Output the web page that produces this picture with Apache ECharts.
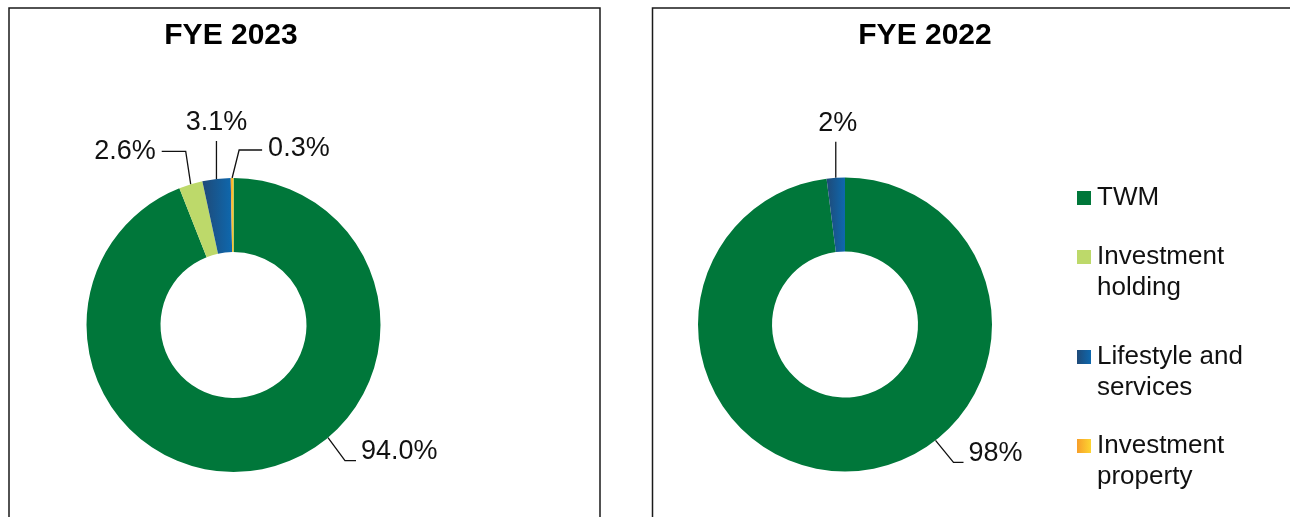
<!DOCTYPE html>
<html><head><meta charset="utf-8">
<script src="https://cdn.jsdelivr.net/npm/echarts@6/dist/echarts.min.js"></script>
<style>html,body{margin:0;padding:0;background:#fff}#c{width:1290px;height:517px}</style>
</head><body><div id="c"></div>
<script>
// ---- data ----
const categories = ['TWM', 'Investment holding', 'Lifestyle and services', 'Investment property'];
const fye2023 = [94.0, 2.6, 3.1, 0.3];
const fye2022 = [98, 0, 2, 0];
const panelTitles = ['FYE 2023', 'FYE 2022'];
const labelDecimals = [1, 0];

// ---- styles / layout ----
const FONT = '"Liberation Sans", Arial, Helvetica, sans-serif';
const sliceColors = [
  '#00773A',
  '#BDD96A',
  {type:'linear', x:0, y:0, x2:1, y2:0, colorStops:[{offset:0, color:'#1F4A78'}, {offset:1, color:'#0E68AE'}]},
  {type:'linear', x:0, y:0, x2:1, y2:0, colorStops:[{offset:0, color:'#F79E2A'}, {offset:1, color:'#FDD531'}]}
];
const pies = [
  {center:[233.5, 325], values: fye2023, titleX: 231},
  {center:[845, 324.5], values: fye2022, titleX: 925}
];
const R_OUT = 147, R_IN = 73;
// leader-line layout: anchor angle (deg clockwise from 12 o'clock, null = slice middle),
// elbow / end relative to anchor, label offset from end
const leaders = [
  [
    {angle:140, elbow:[17, 23], end:[28, 23], off:[5, -9], align:'left'},
    {angle:null, elbow:[-5, -33], end:[-29, -33], off:[-6, 0], align:'right'},
    {angle:null, elbow:[0, -19], end:[0, -38], off:[0, -18], align:'center'},
    {angle:null, elbow:[7, -28], end:[30, -28], off:[6, -1], align:'left'}
  ],
  [
    {angle:142, elbow:[18, 22], end:[28, 22], off:[5, -9], align:'left'},
    null,
    {angle:null, elbow:[0, -18], end:[0, -36], off:[2, -18], align:'center'},
    null
  ]
];
const legendIconCenters = [198, 257, 357, 446];
const LEGEND_LH = 31;

function labelLayout(params) {
  const s = params.seriesIndex, i = params.dataIndex;
  const cfg = leaders[s] && leaders[s][i];
  if (!cfg || !params.labelLinePoints) return {};
  let a;
  if (cfg.angle != null) {
    const t = cfg.angle * Math.PI / 180, c = pies[s].center;
    a = [c[0] + R_OUT * Math.sin(t), c[1] - R_OUT * Math.cos(t)];
  } else {
    a = params.labelLinePoints[0].slice();
  }
  const e1 = [a[0] + cfg.elbow[0], a[1] + cfg.elbow[1]];
  const e2 = [a[0] + cfg.end[0], a[1] + cfg.end[1]];
  return {
    x: e2[0] + cfg.off[0],
    y: e2[1] + cfg.off[1],
    align: cfg.align,
    verticalAlign: 'middle',
    labelLinePoints: [a, e1, e2]
  };
}

// two-line legend entries: first text line sits beside the icon (an empty line above balances the block)
function legendText(n) {
  const k = n.lastIndexOf(' ');
  return k < 0 ? n : '\n' + n.slice(0, k) + '\n' + n.slice(k + 1);
}

const chart = echarts.init(document.getElementById('c'), null, {renderer:'canvas'});
const option = {
  animation: false,
  backgroundColor: '#fff',
  graphic: [
    {type:'rect', shape:{x:9, y:8, width:591, height:600}, style:{fill:'none', stroke:'#1a1a1a', lineWidth:1.5}, silent:true},
    {type:'rect', shape:{x:652.5, y:8, width:700, height:600}, style:{fill:'none', stroke:'#1a1a1a', lineWidth:1.5}, silent:true},
    ...pies.map((p, s) => ({
      type:'text', x:p.titleX, y:36, silent:true,
      style:{text:panelTitles[s], font:'bold 30px ' + FONT, fill:'#000', align:'center', verticalAlign:'middle'}
    }))
  ],
  legend: categories.map((name, i) => ({
    data:[name], orient:'vertical', left:1077,
    top: legendIconCenters[i] - (i === 0 ? LEGEND_LH / 2 : LEGEND_LH * 1.5),
    padding:0, itemWidth:14, itemHeight:14, icon:'rect',
    formatter: legendText,
    textStyle:{fontFamily:FONT, fontSize:26, color:'#111', lineHeight:LEGEND_LH, padding:[0, 0, 0, 1]}
  })),
  series: pies.map((p, s) => ({
    type:'pie', name:panelTitles[s], center:p.center, radius:[R_IN, R_OUT],
    startAngle:90, clockwise:true, avoidLabelOverlap:false,
    emphasis:{scale:false},
    itemStyle:{borderWidth:0},
    label:{show:true, position:'outside', fontFamily:FONT, fontSize:27, color:'#111',
      formatter: prm => prm.value.toFixed(labelDecimals[s]) + '%'},
    labelLine:{show:true, length:10, length2:10, smooth:false, lineStyle:{color:'#111', width:1.3}},
    labelLayout: labelLayout,
    data: categories.map((name, i) => ({
      name, value:p.values[i],
      itemStyle:{color:sliceColors[i]},
      label:{show:p.values[i] > 0},
      labelLine:{show:p.values[i] > 0}
    }))
  }))
};
chart.setOption(option);
</script>
</body></html>
